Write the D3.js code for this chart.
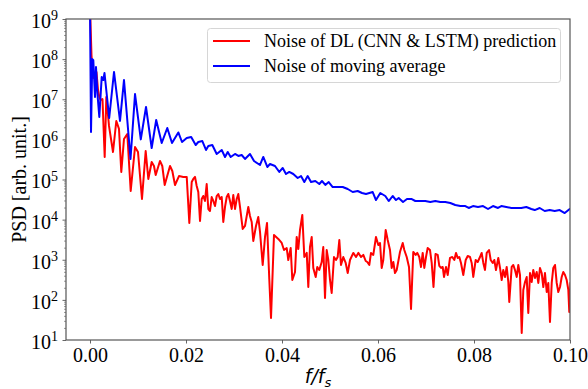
<!DOCTYPE html>
<html><head><meta charset="utf-8">
<script src="https://cdn.jsdelivr.net/npm/d3@7"></script>
<style>
html,body{margin:0;padding:0;background:#fff;}
svg{display:block;}
</style></head>
<body>
<svg id="chart" width="588" height="389"></svg>
<script>
// ---- data ----
const seriesNames = ["Noise of DL (CNN & LSTM) prediction", "Noise of moving average"];
const seriesColors = ["#ff0000", "#0000ff"];
const xTickValues = [0, 0.02, 0.04, 0.06, 0.08, 0.10];
const yTickExponents = [1, 2, 3, 4, 5, 6, 7, 8, 9];

const redF = [0, 0.00031, 0.00063, 0.00094, 0.00135, 0.00167, 0.00194, 0.00223, 0.0026, 0.00306,
0.0034, 0.00396, 0.00479, 0.00548, 0.00604, 0.00652, 0.00708, 0.00777, 0.00848, 0.00938,
0.01, 0.01083, 0.0116, 0.01215, 0.01285, 0.01333, 0.01369, 0.01458, 0.01506, 0.01556,
0.01667, 0.01715, 0.01771, 0.01854, 0.01944, 0.02015, 0.02069, 0.02119, 0.02152, 0.02188,
0.02223, 0.02256, 0.02292, 0.02327, 0.0236, 0.02396, 0.02431, 0.02465, 0.025, 0.02535,
0.02569, 0.02604, 0.0264, 0.02673, 0.02708, 0.02744, 0.02777, 0.02813, 0.02848, 0.02881,
0.02917, 0.02952, 0.02985, 0.03021, 0.03056, 0.0309, 0.03125, 0.03181, 0.03229, 0.03298,
0.03333, 0.03369, 0.03402, 0.03458, 0.03506, 0.03542, 0.03598, 0.03646, 0.03688, 0.03735,
0.03771, 0.03833, 0.03923, 0.03994, 0.04042, 0.04098, 0.04131, 0.04181, 0.04215, 0.04271,
0.04306, 0.0434, 0.04375, 0.04423, 0.04465, 0.04515, 0.04548, 0.04583, 0.04619, 0.04652,
0.04702, 0.04735, 0.04777, 0.04827, 0.0486, 0.04896, 0.04931, 0.04965, 0.05, 0.05035,
0.05083, 0.05125, 0.0516, 0.05194, 0.05229, 0.05277, 0.05327, 0.05369, 0.05417, 0.05485,
0.05542, 0.0559, 0.05646, 0.05694, 0.05744, 0.05777, 0.05819, 0.05854, 0.05902, 0.05958,
0.06006, 0.06042, 0.06077, 0.0611, 0.0616, 0.06202, 0.0625, 0.06285, 0.06319, 0.06354,
0.0639, 0.06458, 0.06515, 0.06548, 0.06598, 0.06646, 0.06688, 0.06735, 0.06785, 0.06819,
0.0686, 0.06896, 0.06931, 0.06965, 0.07, 0.07035, 0.07083, 0.07119, 0.07156, 0.07198,
0.07244, 0.07277, 0.07313, 0.07348, 0.07375, 0.07417, 0.07452, 0.075, 0.07548, 0.0759,
0.07625, 0.0766, 0.07694, 0.07729, 0.07777, 0.07827, 0.07869, 0.07917, 0.07952, 0.07985,
0.08035, 0.08077, 0.08125, 0.0816, 0.08194, 0.08229, 0.08265, 0.08313, 0.08348, 0.0839,
0.08423, 0.08458, 0.08506, 0.08542, 0.08577, 0.0861, 0.08646, 0.08681, 0.08715, 0.08735,
0.08785, 0.08819, 0.08854, 0.0889, 0.08923, 0.08958, 0.08994, 0.09027, 0.09063, 0.09098,
0.09131, 0.09167, 0.09202, 0.09235, 0.09271, 0.09306, 0.0934, 0.09375, 0.0941, 0.09444,
0.09479, 0.09515, 0.09548, 0.09583, 0.09619, 0.09652, 0.09688, 0.09723, 0.09756, 0.09792,
0.09827, 0.0986, 0.09896, 0.09931, 0.09965, 0.09985, 0.1001, 0.10063];

const redPSD = [2e9, 1.27e8, 3.39e7, 4.02e7, 4.78e7, 1.70e7, 1.14e7, 9.6e6, 1.01e7, 3.64e5,
1.14e7, 2.16e6, 4.85e5, 2.87e6, 1.82e6, 1.54e5, 1.02e6, 1.36e6, 5.18e4, 6.46e5,
4.85e5, 3.27e4, 5.14e5, 1.03e5, 2.73e5, 2.17e5, 1.29e5, 2.89e5, 2.17e5, 7.3e4,
2.17e5, 1.63e5, 7.3e4, 1.22e5, 1.16e5, 1.16e5, 8.24e3, 8.66e4, 1.03e5, 1.16e5,
6.89e4, 4.89e4, 9.25e3, 3.27e4, 3.88e4, 2.92e4, 7.73e4, 1.84e4, 1.64e4, 3.66e4,
2.92e4, 2.19e4, 3.88e4, 4.35e4, 3.27e4, 3.66e4, 8.73e3, 2.07e4, 3.66e4, 4.35e4,
2.92e4, 1.84e4, 4.11e4, 1.84e4, 3.27e4, 4.35e4, 2.07e4, 5.85e3, 6.95e3, 2.07e4,
1.23e4, 8.73e3, 2.94e3, 6.95e3, 1.16e4, 4.92e3, 741, 3.69e3, 8.24e3, 332,
35.4, 4.14e3, 3.30e3, 2.62e3, 1.75e3, 1.96e3, 986, 1.96e3, 313, 495,
3.69e3, 1.85e3, 5.52e3, 1.31e4, 1.17e3, 1.48e3, 209, 2.08e3, 3.69e3, 624,
372, 661, 556, 879, 2.08e3, 111, 1.75e3, 986, 313, 149,
1.17e3, 986, 1.17e3, 3.11e3, 741, 1.17e3, 832, 468, 986, 1.48e3,
1.17e3, 1.48e3, 1.17e3, 1.32e3, 931, 879, 741, 1.48e3, 1.32e3, 3.69e3,
2.33e3, 2.62e3, 624, 986, 5.52e3, 3.11e3, 1.75e3, 624, 879, 468,
556, 1.56e3, 2.62e3, 1.75e3, 1.17e3, 661, 59.3, 1.56e3, 1.32e3, 1.48e3,
1.17e3, 661, 1.48e3, 624, 1.17e3, 1.96e3, 1.75e3, 832, 209, 1.39e3,
1.32e3, 700, 624, 661, 372, 661, 417, 1.11e3, 1.17e3, 986,
1.48e3, 1.11e3, 1.17e3, 832, 417, 986, 1.24e3, 1.17e3, 832, 372,
986, 879, 1.17e3, 1.48e3, 832, 556, 1.48e3, 1.75e3, 986, 832,
986, 556, 1.11e3, 624, 313, 556, 372, 661, 279, 88.7,
661, 741, 556, 372, 741, 417, 15.0, 177, 279, 372,
47.2, 468, 279, 556, 352, 495, 264, 624, 468, 209,
468, 157, 264, 28.1, 264, 624, 741, 264, 157, 209,
372, 495, 417, 313, 177, 49.9, 264, 100];

const blueF = [0, 0.00021, 0.00048, 0.00069, 0.00104, 0.00125, 0.00152, 0.00194, 0.00244, 0.00277,
0.00302, 0.0040, 0.0050, 0.00625, 0.00708, 0.00844, 0.00938, 0.01058, 0.01167, 0.01285,
0.01379, 0.01494, 0.0161, 0.01708, 0.0184, 0.01917, 0.02015, 0.02108, 0.02202, 0.02256,
0.0234, 0.02417, 0.02465, 0.02548, 0.0264, 0.02744, 0.02813, 0.02869, 0.02931, 0.03021,
0.0309, 0.0316, 0.03229, 0.03333, 0.03417, 0.03542, 0.0361, 0.03694, 0.0375, 0.03854,
0.03944, 0.04015, 0.04083, 0.04152, 0.04235, 0.04327, 0.04396, 0.04465, 0.04535, 0.04604,
0.04694, 0.04777, 0.04833, 0.04902, 0.04973, 0.05056, 0.0516, 0.05265, 0.05369, 0.05473,
0.05577, 0.05667, 0.0575, 0.0589, 0.05958, 0.06048, 0.06152, 0.06223, 0.06306, 0.06375,
0.06431, 0.06521, 0.06604, 0.06694, 0.06777, 0.06881, 0.06985, 0.0709, 0.07194, 0.07298,
0.07402, 0.07506, 0.0761, 0.07715, 0.07819, 0.0789, 0.07979, 0.08083, 0.08188, 0.08292,
0.08396, 0.085, 0.08569, 0.08673, 0.08777, 0.08881, 0.08985, 0.0909, 0.09194, 0.09265,
0.09369, 0.09473, 0.09577, 0.09681, 0.09785, 0.0989, 0.09994, 0.10083];

const bluePSD = [2e9, 1.53e6, 1.0e8, 9.4e7, 1.14e7, 6.35e7, 1.52e7, 3.61e6, 3.58e7, 3.01e7,
4.51e7, 3.41e6, 4.78e7, 2.87e6, 3.01e7, 3.25e5, 1.35e7, 1.0e6, 6.41e6, 6.1e5,
3.04e6, 8.13e5, 1.92e6, 8.1e5, 1.49e6, 8.6e5, 1.08e6, 1.15e6, 7.24e5, 8.6e5,
9.1e5, 5.45e5, 6.84e5, 7.24e5, 4.33e5, 5.45e5, 3.64e5, 4.85e5, 3.64e5, 4.33e5,
3.86e5, 4.08e5, 3.25e5, 4.33e5, 2.89e5, 2.3e5, 3.64e5, 2.05e5, 2.43e5, 2.17e5,
1.54e5, 1.94e5, 1.37e5, 1.54e5, 1.37e5, 1.09e5, 1.22e5, 8.66e4, 1.22e5, 8.66e4,
9.18e4, 7.73e4, 9.18e4, 7.3e4, 8.66e4, 6.5e4, 6.5e4, 6.5e4, 5.8e4, 4.88e4,
5.16e4, 4.61e4, 4.35e4, 4.88e4, 3.08e4, 4.61e4, 3.88e4, 2.91e4, 3.88e4, 3.08e4,
3.46e4, 2.75e4, 3.27e4, 3.27e4, 2.91e4, 2.91e4, 2.91e4, 2.75e4, 2.91e4, 2.75e4,
2.75e4, 2.59e4, 2.31e4, 2.18e4, 2.18e4, 1.95e4, 2.18e4, 2.06e4, 2.18e4, 1.84e4,
2.18e4, 1.95e4, 2.18e4, 2.06e4, 1.95e4, 1.95e4, 1.95e4, 2.06e4, 1.84e4, 1.73e4,
1.95e4, 1.64e4, 1.73e4, 1.64e4, 1.73e4, 1.46e4, 1.84e4, 1.95e4];

// ---- layout ----
const plotL = 66, plotR = 570, plotT = 19, plotB = 340;
const svg = d3.select("#chart");
const serif = "'Liberation Serif','Times New Roman',Times,serif";
const axisColor = "#555";

const x = d3.scaleLinear().domain([-0.005, 0.10]).range([plotL, plotR]);
const y = d3.scaleLog().domain([10, 1e9]).range([plotB, plotT]);

svg.append("defs").append("clipPath").attr("id", "plotclip")
  .append("rect").attr("x", plotL).attr("y", plotT).attr("width", plotR - plotL).attr("height", plotB - plotT);

// lines
const line = d3.line().x(d => x(d[0])).y(d => y(d[1]));
const series = [d3.zip(redF, redPSD), d3.zip(blueF, bluePSD)];
const gLines = svg.append("g").attr("clip-path", "url(#plotclip)");
series.forEach((s, i) => {
  gLines.append("path").datum(s).attr("d", line)
    .attr("fill", "none").attr("stroke", seriesColors[i])
    .attr("stroke-width", 2).attr("stroke-linejoin", "round");
});

// x axis
const xAxis = d3.axisBottom(x).tickValues(xTickValues).tickFormat(d3.format(".2f"))
  .tickSize(3.5).tickSizeOuter(0).tickPadding(4);
const gx = svg.append("g").attr("transform", `translate(0,${plotB})`).call(xAxis);
gx.select(".domain").remove();
gx.selectAll(".tick line").attr("stroke", axisColor).attr("stroke-width", 0.9);
gx.selectAll(".tick text").attr("font-family", serif).attr("font-size", 20).attr("fill", "#000");

// y axis major
const yMajor = yTickExponents.map(e => Math.pow(10, e));
const yAxis = d3.axisLeft(y).tickValues(yMajor).tickSize(3.5).tickSizeOuter(0).tickPadding(3.5)
  .tickFormat(() => "");
const gy = svg.append("g").attr("transform", `translate(${plotL},0)`).call(yAxis);
gy.select(".domain").remove();
gy.selectAll(".tick line").attr("stroke", axisColor).attr("stroke-width", 0.9);
gy.selectAll(".tick text").each(function(d, i) {
  const t = d3.select(this);
  t.text(null).attr("font-family", serif).attr("font-size", 20).attr("fill", "#000")
    .attr("dy", "0.42em").attr("x", -8);
  t.append("tspan").text("10");
  t.append("tspan").attr("dy", "-0.55em").attr("font-size", 14).text(String(yTickExponents[i]));
});

// y axis minor
const yMinor = [];
for (let e = 1; e < 9; e++) for (let m = 2; m <= 9; m++) yMinor.push(m * Math.pow(10, e));
const yAxisMinor = d3.axisLeft(y).tickValues(yMinor).tickSize(2).tickSizeOuter(0).tickFormat("");
const gym = svg.append("g").attr("transform", `translate(${plotL},0)`).call(yAxisMinor);
gym.select(".domain").remove();
gym.selectAll(".tick line").attr("stroke", axisColor).attr("stroke-width", 0.6);

// spines
svg.append("rect").attr("x", plotL).attr("y", plotT).attr("width", plotR - plotL).attr("height", plotB - plotT)
  .attr("fill", "none").attr("stroke", axisColor).attr("stroke-width", 1.2);

// axis labels
svg.append("text").attr("transform", `translate(19,${(plotT + plotB) / 2}) rotate(-90)`)
  .attr("text-anchor", "middle").attr("dominant-baseline", "central")
  .attr("font-family", serif).attr("font-size", 20).attr("fill", "#000")
  .text("PSD [arb. unit.]");

const xl = svg.append("text").attr("x", (plotL + plotR) / 2).attr("y", 383)
  .attr("text-anchor", "middle").attr("font-family", "'DejaVu Sans',sans-serif")
  .attr("font-size", 19).attr("font-style", "italic").attr("fill", "#000");
xl.append("tspan").text("f/f");
xl.append("tspan").attr("dy", 4).attr("font-size", 13).text("s");

// legend
const lg = svg.append("g");
lg.append("rect").attr("x", 207.5).attr("y", 28.5).attr("width", 353).attr("height", 54).attr("rx", 3)
  .attr("fill", "#fff").attr("fill-opacity", 0.8).attr("stroke", "#d6d6d6").attr("stroke-width", 1);
seriesNames.forEach((name, i) => {
  const cy = 41 + i * 25;
  lg.append("line").attr("x1", 213).attr("x2", 250).attr("y1", cy).attr("y2", cy)
    .attr("stroke", seriesColors[i]).attr("stroke-width", 2);
  lg.append("text").attr("x", 264).attr("y", cy + 6).attr("font-family", serif)
    .attr("font-size", 18).attr("fill", "#000").text(name);
});
</script>
</body></html>
